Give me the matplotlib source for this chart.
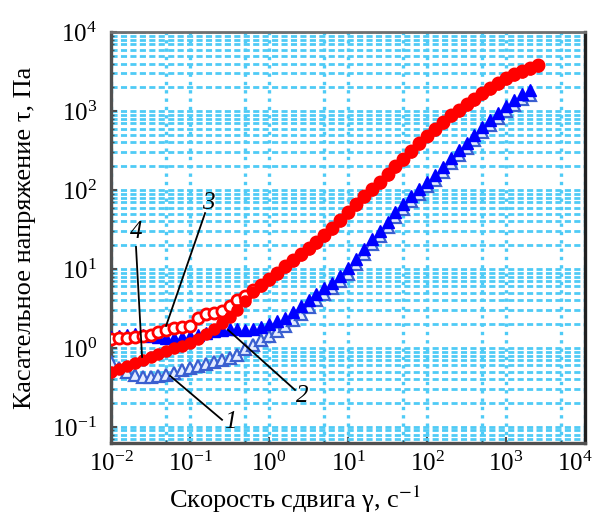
import numpy as np
import matplotlib
matplotlib.use("Agg")
import matplotlib.pyplot as plt
import matplotlib.transforms as mtransforms
from matplotlib.ticker import LogLocator, NullFormatter

plt.rcParams['font.family'] = ['Liberation Serif', 'DejaVu Serif']
plt.rcParams['mathtext.fontset'] = 'stix'

# shear rate, 1/s
shear_red = [0.01, 0.0126, 0.0158, 0.02, 0.0251, 0.0316, 0.0398, 0.0501, 0.0631, 0.0794,
             0.1, 0.126, 0.158, 0.2, 0.251, 0.316, 0.398, 0.501, 0.631, 0.794,
             1, 1.26, 1.58, 2, 2.51, 3.16, 3.98, 5.01, 6.31, 7.94,
             10, 12.6, 15.8, 20, 25.1, 31.6, 39.8, 50.1, 63.1, 79.4,
             100, 126, 158, 200, 251, 316, 398, 501, 631, 794,
             1000, 1260, 1580, 2000, 2510]
shear_blue = shear_red[:-1]

# shear stress, Pa
tau1 = [0.665, 0.558, 0.497, 0.455, 0.430, 0.430, 0.443, 0.455, 0.483, 0.527,
        0.558, 0.592, 0.627, 0.665, 0.705, 0.747, 0.815, 0.971, 1.09, 1.26,
        1.42, 1.64, 1.90, 2.26, 2.69, 3.30, 4.06, 4.83, 5.74, 7.05,
        8.65, 11.7, 15.6, 20.9, 26.4, 34.3, 45.8, 57.9, 73, 89,
        111, 135, 170, 221, 279, 343, 432, 545, 669, 821,
        1007, 1198, 1428, 1605]
tau2 = [1.38, 1.42, 1.46, 1.50, 1.46, 1.42, 1.38, 1.34, 1.34, 1.38,
        1.42, 1.46, 1.55, 1.64, 1.69, 1.74, 1.74, 1.69, 1.74, 1.85,
        2.01, 2.20, 2.40, 2.86, 3.40, 4.06, 4.83, 5.74, 6.65, 8.15,
        10.3, 13.4, 17.9, 24.0, 30.3, 39.4, 52.7, 66.5, 84, 102,
        128, 155, 195, 254, 321, 394, 497, 627, 769, 944,
        1157, 1377, 1641, 1845]
tau3 = [1.30, 1.34, 1.34, 1.38, 1.42, 1.46, 1.60, 1.69, 1.79, 1.85,
        1.90, 2.40, 2.69, 2.77, 2.94, 3.40, 4.06, 4.55, 5.42, 6.27,
        7.46, 8.9, 10.9, 13.0, 15.5, 18.4, 22.0, 26.9, 33.0, 41.7,
        52.7, 66.5, 84, 103, 128, 160, 200, 250, 310, 390,
        490, 600, 730, 889, 1030, 1227, 1420, 1690, 1950, 2260,
        2620, 2940, 3210, 3500, 3820]
tau4 = [0.497, 0.542, 0.592, 0.646, 0.705, 0.769, 0.839, 0.916, 1.00, 1.06,
        1.16, 1.30, 1.50, 1.74, 2.07, 2.47, 3.03, 3.94, 5.12, 6.10,
        7.3, 8.7, 10.6, 12.6, 15.1, 17.9, 21.4, 26.2, 32.1, 40.6,
        51.3, 64.7, 81.7, 100, 124, 156, 195, 243, 302, 380,
        477, 584, 710, 866, 1003, 1195, 1383, 1646, 1899, 2201,
        2552, 2863, 3126, 3409, 3720]

fig = plt.figure(figsize=(5.97, 5.18), dpi=100)
ax = fig.add_axes([0.186, 0.145, 0.794, 0.793])
ax.set_xscale('log')
ax.set_yscale('log')
ax.set_xlim(0.01, 1e4)
ax.set_ylim(0.0627, 1e4)

ax.xaxis.set_major_locator(LogLocator(base=10, numticks=20))
ax.xaxis.set_minor_locator(LogLocator(base=10, subs=[5.0], numticks=20))
ax.yaxis.set_major_locator(LogLocator(base=10, numticks=20))
ax.yaxis.set_minor_locator(LogLocator(base=10, subs=np.arange(2, 10), numticks=20))
ax.xaxis.set_minor_formatter(NullFormatter())
ax.yaxis.set_minor_formatter(NullFormatter())

gcol = '#4fcbf6'
ax.yaxis.grid(True, which='both', color=gcol, lw=2.0, ls=(0, (2.2, 1.2)))
ax.xaxis.grid(True, which='both', color=gcol, lw=2.4, ls=(0, (1, 1.5)))
ax.set_axisbelow(True)

ms = 8
ax.plot(shear_blue, tau1, ls='none', marker='^', ms=ms, mfc='#e4ecff', mec='#3a5fd0', mew=1.6, zorder=3)
ax.plot(shear_blue, tau2, ls='none', marker='^', ms=ms, mfc='#0000ff', mec='#0000ff', mew=1.0, zorder=4)
ax.plot(shear_red, tau3, ls='none', marker='o', ms=ms, mfc='white', mec='#ff0000', mew=2.0, zorder=5)
ax.plot(shear_red, tau4, ls='none', marker='o', ms=ms, mfc='#ff0000', mec='#ff0000', mew=1.0, zorder=6)

# curve labels with leader lines
labels = [('1', (0.32, 0.116), (0.0559, 0.443), (0.254, 0.123)),
          ('2', (2.62, 0.246), (0.303, 1.69), (2.13, 0.294)),
          ('3', (0.169, 68), (0.155, 51), (0.0497, 1.9)),
          ('4', (0.0207, 29.4), (0.0207, 19), (0.0247, 0.77))]
for txt, tpos, p0, p1 in labels:
    ax.plot([p0[0], p1[0]], [p0[1], p1[1]], color='black', lw=1.3, zorder=7)
    ax.text(tpos[0], tpos[1], txt, fontsize=18, style='italic', ha='center', va='center', zorder=8)

for s in ['left', 'bottom']:
    ax.spines[s].set_color('#505050')
    ax.spines[s].set_linewidth(2.4)
ax.spines['right'].set_color('#202020')
ax.spines['right'].set_linewidth(2.4)
ax.spines['top'].set_color('#707070')
ax.spines['top'].set_linewidth(2.0)
ax.spines['top'].set_linestyle((0, (1.5, 1)))

ax.tick_params(which='major', direction='in', length=4, width=1.5, color='#505050', labelsize=18)
ax.tick_params(which='minor', direction='in', length=2, width=1.0, color='#505050')
ax.tick_params(axis='y', which='major', pad=10)
ax.tick_params(axis='x', which='major', pad=6)

ax.set_xlabel('Скорость сдвига γ, с$^{-1}$', fontsize=19)
ax.set_ylabel('Касательное напряжение τ, Па', fontsize=19)
ax.xaxis.label.set_va('center')
ax.yaxis.label.set_va('center')
ax.xaxis.set_label_coords(0.388, -0.137)
ax.yaxis.set_label_coords(-0.182, 0.5)

fig.canvas.draw()
# keep the last x tick label inside the figure, as in the original
last = [t for t in ax.get_xticklabels() if t.get_position()[0] >= 1e4]
for t in last:
    t.set_transform(t.get_transform() + mtransforms.ScaledTranslation(-10 / 100, 0, fig.dpi_scale_trans))

fig.savefig('out.png', dpi=100)
